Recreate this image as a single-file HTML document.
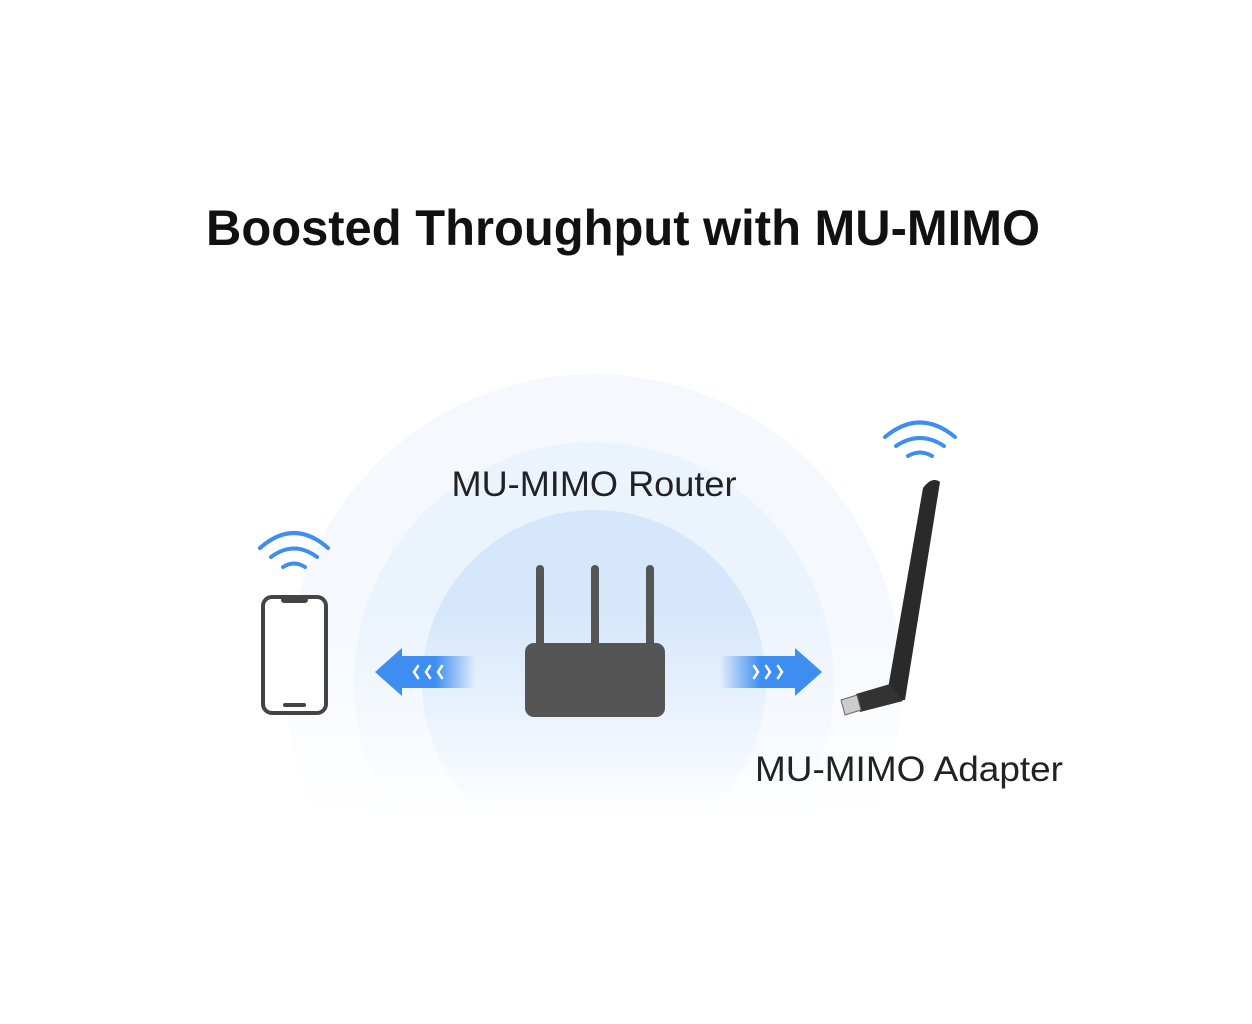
<!DOCTYPE html>
<html><head><meta charset="utf-8"><style>
html,body{margin:0;padding:0;background:#fff;}
body{width:1252px;height:1024px;overflow:hidden;position:relative;font-family:"Liberation Sans",sans-serif;}
</style></head><body>
<svg width="1252" height="1024" viewBox="0 0 1252 1024" xmlns="http://www.w3.org/2000/svg" style="position:absolute;left:0;top:0">
<defs>
<linearGradient id="fade" x1="0" y1="0" x2="0" y2="1">
<stop offset="0" stop-color="#fff" stop-opacity="1"/>
<stop offset="0.55" stop-color="#fff" stop-opacity="1"/>
<stop offset="1" stop-color="#fff" stop-opacity="0"/>
</linearGradient>
<mask id="m"><rect x="0" y="360" width="1252" height="460" fill="url(#fade)"/></mask>
<linearGradient id="la" x1="0" y1="0" x2="1" y2="0">
<stop offset="0.6" stop-color="#3d8ef0"/><stop offset="1" stop-color="#3d8ef0" stop-opacity="0"/>
</linearGradient>
<linearGradient id="ra" x1="1" y1="0" x2="0" y2="0">
<stop offset="0.6" stop-color="#3d8ef0"/><stop offset="1" stop-color="#3d8ef0" stop-opacity="0"/>
</linearGradient>
</defs>
<g mask="url(#m)">
<circle cx="594" cy="682" r="308" fill="#f5f9fe"/>
<circle cx="594" cy="682" r="240" fill="#ebf3fd"/>
<circle cx="594" cy="682" r="172" fill="#d6e7fb"/>
</g>
<text x="623" y="245" font-size="50" font-weight="bold" text-anchor="middle" fill="#111" textLength="834" lengthAdjust="spacingAndGlyphs">Boosted Throughput with MU-MIMO</text>
<text x="594" y="496" font-size="35" text-anchor="middle" fill="#222" textLength="285" lengthAdjust="spacingAndGlyphs">MU-MIMO Router</text>
<text x="909" y="781" font-size="35" text-anchor="middle" fill="#222" textLength="308" lengthAdjust="spacingAndGlyphs">MU-MIMO Adapter</text>
<!-- phone -->
<rect x="263" y="597" width="63" height="116" rx="9" fill="#fff" stroke="#444" stroke-width="4"/>
<rect x="281" y="597" width="27" height="6" rx="3" fill="#444"/>
<rect x="283" y="703" width="23" height="4" rx="2" fill="#444"/>
<g fill="none" stroke="#3d8ef0" stroke-width="4" stroke-linecap="round">
<path d="M260 548 Q294 518 328 548"/><path d="M271 557 Q294 540 317 557"/><path d="M283 567 Q294 560 305 567"/>
<path d="M885 437 Q920 408 955 437"/><path d="M896 446 Q920 430 944 446"/><path d="M908 456 Q920 449 932 456"/>
</g>
<!-- arrows -->
<path d="M375 672 L402 648 L402 656 L475 656 L475 688 L402 688 L402 696 Z" fill="url(#la)"/>
<path d="M822 672 L795 648 L795 656 L720 656 L720 688 L795 688 L795 696 Z" fill="url(#ra)"/>
<g fill="none" stroke="#fff" stroke-width="2.5" stroke-linecap="round">
<path d="M418 666 L414 672 L418 678"/><path d="M430 666 L426 672 L430 678"/><path d="M442 666 L438 672 L442 678"/>
<path d="M754 666 L758 672 L754 678"/><path d="M766 666 L770 672 L766 678"/><path d="M778 666 L782 672 L778 678"/>
</g>
<!-- router -->
<g fill="#555">
<rect x="536" y="565" width="8" height="85" rx="4"/>
<rect x="591" y="565" width="8" height="85" rx="4"/>
<rect x="646" y="565" width="8" height="85" rx="4"/>
<rect x="525" y="643" width="140" height="74" rx="9"/>
</g>
<!-- adapter -->
<path d="M923 488 Q932 476 940 482 L905 700 L886 700 Z" fill="#2a2a2a"/>
<path d="M856 694 L890 684 L903 701 L860 712 Z" fill="#333"/>
<path d="M841 700 L857 695 L861 710 L845 715 Z" fill="#ccc" stroke="#666" stroke-width="1"/>
</svg>
</body></html>
